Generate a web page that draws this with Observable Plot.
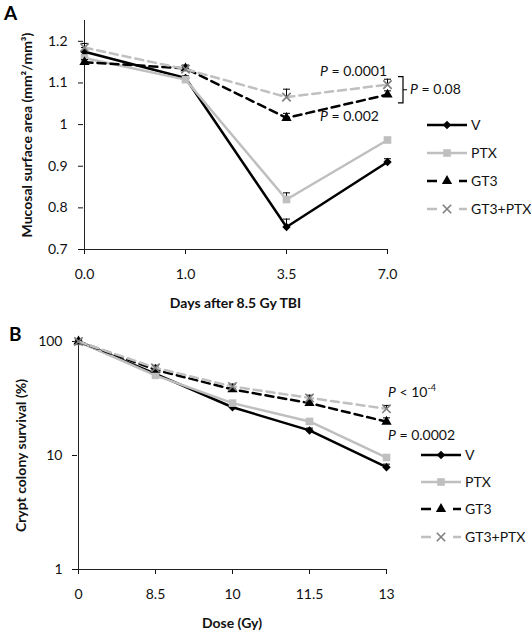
<!DOCTYPE html>
<html><head><meta charset="utf-8">
<script src="https://cdn.jsdelivr.net/npm/d3@7"></script>
<script src="https://cdn.jsdelivr.net/npm/@observablehq/plot@0.6"></script>
<style>
body{margin:0;background:#fff;}
#root{width:531px;}
#root svg{display:block;}
</style></head><body><div id="root"></div>
<script>
// ---------- DATA ----------
const seriesNames = ["V", "PTX", "GT3", "GT3+PTX"];

// Panel A
const daysLabels = ["0.0", "1.0", "3.5", "7.0"];
const mucosaV      = [1.175, 1.112, 0.754, 0.910];
const mucosaPTX    = [1.160, 1.108, 0.820, 0.963];
const mucosaGT3    = [1.150, 1.135, 1.016, 1.072];
const mucosaGT3PTX = [1.185, 1.133, 1.066, 1.096];
const mucosaErrV      = [0.010, 0.005, 0.019, 0.008];
const mucosaErrPTX    = [0.008, 0.004, 0.016, 0.004];
const mucosaErrGT3    = [0.006, 0.008, 0.011, 0.009];
const mucosaErrGT3PTX = [0.010, 0.007, 0.019, 0.013];
const yTicksA = [0.7, 0.8, 0.9, 1, 1.1, 1.2];

// Panel B
const doseLabels = ["0", "8.5", "10", "11.5", "13"];
const survV      = [100, 52, 26.5, 16.6, 7.9];
const survPTX    = [100, 50.5, 28.8, 19.9, 9.6];
const survGT3    = [100, 56.5, 38, 28.8, 19.8];
const survGT3PTX = [100, 58.8, 40.3, 32, 25.7];
const survErrV      = [3, 2.5, 1.2, 0.8, 0.5];
const survErrPTX    = [3, 2, 1.2, 0.8, 0.5];
const survErrGT3    = [3, 3, 2, 1.6, 1.6];
const survErrGT3PTX = [3, 3, 2, 1.8, 1.8];
const yTicksB = [1, 10, 100];

// annotation texts
const annA = [
  {x: "3.5", y: 1.128, dx: 34, parts: [["P", true], [" = 0.0001", false]]},
  {x: "3.5", y: 1.018, dx: 34, parts: [["P", true], [" = 0.002", false]]},
  {x: "7.0", y: 1.085, dx: 23, parts: [["P", true], [" = 0.08", false]]}
];
const annB = [
  {x: "13", y: 35.7, dx: 2, parts: [["P", true], [" < 10", false], ["-4", false, true]]},
  {x: "13", y: 15, dx: 2, parts: [["P", true], [" = 0.0002", false]]}
];

// ---------- STYLES ----------
const styles = {
  "V":       {stroke: "#000", dash: null,  symbol: "diamond2", fill: "#000", mstroke: "none", r: 3.8},
  "PTX":     {stroke: "#bfbfbf", dash: null, symbol: "square", fill: "#bfbfbf", mstroke: "none", r: 4.3},
  "GT3":     {stroke: "#000", dash: "8,5", symbol: "triangle", fill: "#000", mstroke: "none", r: 3.8},
  "GT3+PTX": {stroke: "#c0c0c0", dash: "8,5", symbol: "times", fill: "none", mstroke: "#7f7f7f", r: 3.9}
};
const FONT = "Lato, 'Liberation Sans', sans-serif";
const FS = 14;

function buildRows(labels, vals, errs) {
  const rows = [];
  seriesNames.forEach((s, i) => {
    labels.forEach((l, j) => rows.push({series: s, x: l, y: vals[i][j], err: errs[i][j]}));
  });
  return rows;
}
const rowsA = buildRows(daysLabels, [mucosaV, mucosaPTX, mucosaGT3, mucosaGT3PTX],
                        [mucosaErrV, mucosaErrPTX, mucosaErrGT3, mucosaErrGT3PTX]);
const rowsB = buildRows(doseLabels, [survV, survPTX, survGT3, survGT3PTX],
                        [survErrV, survErrPTX, survErrGT3, survErrGT3PTX]);

const capSymbol = {draw(ctx, size) { const w = Math.sqrt(size / Math.PI); ctx.moveTo(-w, 0); ctx.lineTo(w, 0); }};

function seriesMarks(rows) {
  const marks = [];
  for (const s of seriesNames) {
    const st = styles[s];
    const d = rows.filter(r => r.series === s);
    marks.push(Plot.line(d, {x: "x", y: "y", stroke: st.stroke, strokeWidth: 2.5, strokeDasharray: st.dash, strokeLinejoin: "miter"}));
    marks.push(Plot.ruleX(d, {x: "x", y1: "y", y2: d => d.y + d.err, stroke: "#000", strokeWidth: 1}));
    marks.push(Plot.dot(d, {x: "x", y: d => d.y + d.err, symbol: capSymbol, r: 3.5, stroke: "#000", fill: "none", strokeWidth: 1}));
    marks.push(Plot.dot(d, {x: "x", y: "y", symbol: st.symbol, r: st.r, fill: st.fill, stroke: st.mstroke, strokeWidth: 1.6}));
  }
  return marks;
}

function addAnnotations(svg, plot, anns) {
  const xs = plot.scale("x"), ys = plot.scale("y");
  const g = d3.select(svg).append("g").attr("font-family", FONT).attr("font-size", FS)
    .attr("fill", "#111").attr("text-anchor", "start");
  for (const a of anns) {
    const t = g.append("text").attr("x", xs.apply(a.x) + a.dx).attr("y", ys.apply(a.y)).attr("dy", "0.35em");
    for (const [txt, it, sup] of a.parts) {
      const ts = t.append("tspan").text(txt);
      if (it) ts.attr("font-style", "italic");
      if (sup) ts.attr("font-size", 9).attr("dy", "-0.7em");
    }
  }
}

function addLegend(svg, x0, ys) {
  const g = d3.select(svg).append("g").attr("text-anchor", "start");
  seriesNames.forEach((s, i) => {
    const st = styles[s];
    const y = ys[i];
    const line = g.append("line").attr("x1", x0).attr("x2", x0 + 40).attr("y1", y).attr("y2", y)
      .attr("stroke", st.stroke).attr("stroke-width", 2.5);
    if (st.dash) line.attr("stroke-dasharray", "10,6");
    const sym = d3.symbol().type({diamond2: d3.symbolDiamond2, square: d3.symbolSquare, triangle: d3.symbolTriangle, times: d3.symbolTimes}[st.symbol])
      .size(st.r * st.r * Math.PI);
    if (st.dash) g.append("rect").attr("x", x0 + 13).attr("y", y - 3).attr("width", 14).attr("height", 6).attr("fill", "#fff");
    g.append("path").attr("d", sym()).attr("transform", `translate(${x0 + 20},${y})`)
      .attr("fill", st.fill).attr("stroke", st.mstroke).attr("stroke-width", 1.6);
    g.append("text").attr("x", x0 + 44).attr("y", y).attr("dy", "0.35em")
      .attr("font-family", FONT).attr("font-size", FS).attr("fill", "#111").text(s);
  });
}

function panelLabel(svg, x, y, txt) {
  d3.select(svg).append("text").attr("x", x).attr("y", y).attr("font-family", FONT).attr("text-anchor", "start")
    .attr("font-size", 19).attr("font-weight", "bold").attr("fill", "#000").text(txt);
}

// ---------- PANEL A ----------
const plotA = Plot.plot({
  width: 531, height: 320,
  marginLeft: 83, marginRight: 144, marginTop: 20, marginBottom: 71,
  style: {fontFamily: FONT, fontSize: FS + "px", color: "#111", background: "#fff"},
  x: {type: "point", domain: daysLabels, padding: 0},
  y: {domain: [0.7, 1.25]},
  marks: [
    Plot.axisY({ticks: yTicksA, tickFormat: d => d === 1 ? "1" : d.toFixed(1), tickSize: 5, tickPadding: 11, label: null, fontSize: FS}),
    Plot.axisX({tickSize: 5, tickPadding: 15, label: null, fontSize: FS}),
    Plot.ruleX([daysLabels[0]], {stroke: "#222"}),
    Plot.ruleY([0.7], {stroke: "#222"}),
    Plot.text(["Mucosal surface area (mm\u00b2/mm\u00b3)"], {frameAnchor: "left", textAnchor: "middle", lineAnchor: "middle", rotate: -90, dx: -56, fontWeight: "bold", fontSize: FS}),
    Plot.text(["Days after 8.5 Gy TBI"], {frameAnchor: "bottom", textAnchor: "middle", lineAnchor: "middle", dy: 54, fontWeight: "bold", fontSize: FS}),
    ...seriesMarks(rowsA)
  ]
});
addAnnotations(plotA, plotA, annA);
// bracket for P = 0.08
{
  const xs = plotA.scale("x"), ys = plotA.scale("y");
  const bx = xs.apply("7.0") + 16;
  const yTop = ys.apply(mucosaGT3PTX[3] + mucosaErrGT3PTX[3] + 0.005);
  const yBot = ys.apply(mucosaGT3[3] - 0.021);
  const yMid = (yTop + yBot) / 2;
  d3.select(plotA).append("path")
    .attr("d", `M${bx - 5},${yTop}H${bx}V${yBot}H${bx - 5}M${bx},${yMid}H${bx + 4}`)
    .attr("fill", "none").attr("stroke", "#000").attr("stroke-width", 1.2);
}
addLegend(plotA, 427, [125, 153, 181, 209]);
panelLabel(plotA, 4, 20, "A");

// ---------- PANEL B ----------
const plotB = Plot.plot({
  width: 531, height: 317,
  marginLeft: 77, marginRight: 145, marginTop: 21, marginBottom: 68,
  style: {fontFamily: FONT, fontSize: FS + "px", color: "#111", background: "#fff"},
  x: {type: "point", domain: doseLabels, padding: 0},
  y: {type: "log", domain: [1, 100]},
  marks: [
    Plot.axisY({ticks: yTicksB, tickFormat: d => String(d), tickSize: 5, tickPadding: 10, label: null, fontSize: FS}),
    Plot.axisX({tickSize: 5, tickPadding: 15, label: null, fontSize: FS}),
    Plot.ruleX([doseLabels[0]], {stroke: "#222"}),
    Plot.ruleY([1], {stroke: "#222"}),
    Plot.text(["Crypt colony survival (%)"], {frameAnchor: "left", textAnchor: "middle", lineAnchor: "middle", rotate: -90, dx: -56, fontWeight: "bold", fontSize: FS}),
    Plot.text(["Dose (Gy)"], {frameAnchor: "bottom", textAnchor: "middle", lineAnchor: "middle", dy: 54, fontWeight: "bold", fontSize: FS}),
    ...seriesMarks(rowsB)
  ]
});
addAnnotations(plotB, plotB, annB);
addLegend(plotB, 421, [135, 162, 189, 217]);
panelLabel(plotB, 9, 21, "B");

document.getElementById("root").append(plotA, plotB);
</script></body></html>
